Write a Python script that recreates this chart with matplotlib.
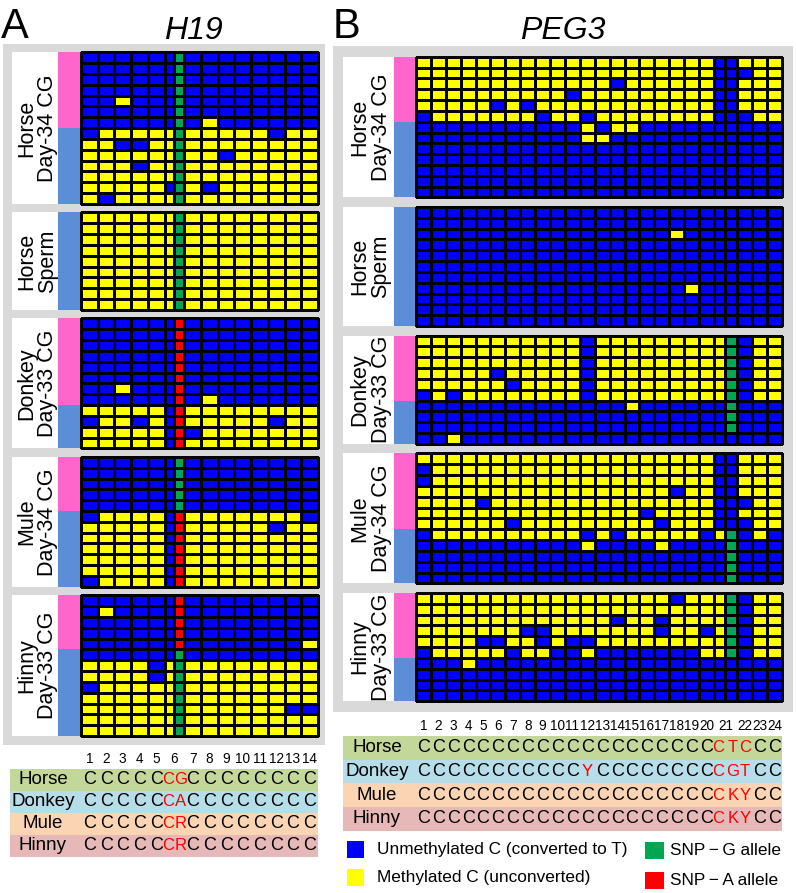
import matplotlib
matplotlib.use("Agg")
import matplotlib.pyplot as plt
import numpy as np
from matplotlib.colors import ListedColormap
from matplotlib.patches import Rectangle

plt.rcParams["font.family"] = ["Liberation Sans", "DejaVu Sans"]

# cell codes: B = unmethylated C, Y = methylated C, G = SNP-G allele, R = SNP-A allele
# H19 columns: CpG 1-6, SNP, CpG 7-14
H19_HORSE_D34 = [
    "BBBBBBGBBBBBBBB", "BBBBBBGBBBBBBBB", "BBBBBBGBBBBBBBB", "BBBBBBGBBBBBBBB",
    "BBYBBBGBBBBBBBB", "BBBBBBGBBBBBBBB", "BBBBBBGBYBBBBBB",
    "BYYYYYGYYYYYBYY", "YYBBYYGYYYYYYYY", "YYYYYYGYYBYYYYY", "YYYBYYGYYYYYYYY",
    "YYYYYYGYYYYYYYY", "YYYYYBGYBYYYYYY", "YBYYYYGYYYYYYYY",
]
H19_HORSE_SPERM = ["YYYYYYGYYYYYYYY"] * 9
H19_DONKEY_D33 = [
    "BBBBBBRBBBBBBBB", "BBBBBBRBBBBBBBB", "BBBBBBRBBBBBBBB", "BBBBBBRBBBBBBBB",
    "BBBBBBRBBBBBBBB", "BBBBBBRBBBBBBBB", "BBYBBBRBBBBBBBB", "BBBBBBRBYBBBBBB",
    "YYYYYBRYYYYYYYY", "BYYBYBRYYYYYBYY", "YYYYYBRBYYYYYYY", "YYYYYBRYYYYYYYY",
]
H19_MULE_D34 = [
    "BBBBBBGBBBBBBBB", "BBBBBBGBBBBBBBB", "BBBBBBGBBBBBBBB", "BBBBBBGBBBBBBBB",
    "BBBBBBGBBBBBBBB",
    "BYYYYBRYYYYYYYB", "YYYYYBRYYYYYBYY", "YYYYYBRYYYYYYYY", "YYYYYBRYYYYYYYY",
    "YYYYYBRYYYYYYYY", "YYYYYBRYYYYYYYY", "BYYYYBRYYYYYYYY",
]
H19_HINNY_D33 = [
    "BBBBBBRBBBBBBBB", "BYBBBBRBBBBBBBB", "BBBBBBRBBBBBBBB", "BBBBBBRBBBBBBBB",
    "BBBBBBRBBBBBBBY",
    "BBBBBBGBBBBBBBB", "YYYYBYGYYYYYYYY", "YYYYBYGYYYYYYYY", "BYYYYYGYYYYYYYY",
    "YYYYYYGYYYYYYYY", "YYYYYYGYYYYYYBB", "YYYYYYGYYYYYYYY", "YYYYYYGYYYYYYYY",
]

# PEG3 columns: CpG 1-21, SNP, CpG 22-24
PEG3_HORSE_D34 = [
    "YYYYYYYYYYYYYYYYYYYYBBYYY", "YYYYYYYYYYYYYYYYYYYYBBBYY",
    "YYYYYYYYYYYYYBYYYYYYBBYYY", "YYYYYYYYYYBYYYYYYYYYBBYYY",
    "YYYYYBYBYYYYYYYYYYYYBBYYY", "BYYYYYYYBYYBYYYYYYYYBBBYY",
    "BBBBBBBBBBBYBYYBBBBBBBBBB", "BBBBBBBBBBBYYBBBBBBBBBBBB",
    "BBBBBBBBBBBBBBBBBBBBBBBBB", "BBBBBBBBBBBBBBBBBBBBBBBBB",
    "BBBBBBBBBBBBBBBBBBBBBBBBB", "BBBBBBBBBBBBBBBBBBBBBBBBB",
    "BBBBBBBBBBBBBBBBBBBBBBBBB",
]
PEG3_HORSE_SPERM = [
    "BBBBBBBBBBBBBBBBBBBBBBBBB", "BBBBBBBBBBBBBBBBBBBBBBBBB",
    "BBBBBBBBBBBBBBBBBYBBBBBBB", "BBBBBBBBBBBBBBBBBBBBBBBBB",
    "BBBBBBBBBBBBBBBBBBBBBBBBB", "BBBBBBBBBBBBBBBBBBBBBBBBB",
    "BBBBBBBBBBBBBBBBBBBBBBBBB", "BBBBBBBBBBBBBBBBBBYBBBBBB",
    "BBBBBBBBBBBBBBBBBBBBBBBBB", "BBBBBBBBBBBBBBBBBBBBBBBBB",
    "BBBBBBBBBBBBBBBBBBBBBBBBB",
]
PEG3_DONKEY_D33 = [
    "YYYYYYYYYYYBYYYYYYYYYGBYY", "YYYYYYYYYYYBYYYYYYYYYGBYY",
    "YYYYYYYYYYYBYYYYYYYYYGBYY", "YYYYYBYYYYYBYYYYYYYYYGBYY",
    "YYYYYYBYYYYBYYYYYYYYYGBYY", "BYBYYYYYYYYBYYYYYYYYYGBYY",
    "BBBBBBBBBBBBBBYBBBBBBGBBB", "BBBBBBBBBBBBBBBBBBBBBGBBB",
    "BBBBBBBBBBBBBBBBBBBBBGBBB", "BBYBBBBBBBBBBBBBBBBBBBBBB",
]
PEG3_MULE_D34 = [
    "YYYYYYYYYYYYYYYYYYYYBBYYY", "BYYYYYYYYYYYYYYYYYYYBBYYY",
    "BYYYYYYYYYYYYYYYYYYYBBYYY", "YYYYYYYYYYYYYYYYYBYYBBYYY",
    "YYYYBYYYYYYYYYYYYYYYBBBYY", "YYYYYYYYYYYYYYYBYYYYBBYYY",
    "YYYYYYBYYYYYYYYYBYYYBBBYY", "BYYYYYYYYYYBYBYYYYYBYGBYB",
    "BBBBBBBBBBBYBBBBYBBBBGBBB", "BBBBBBBBBBBBBBBBBBBBBGBBB",
    "BBBBBBBBBBBBBBBBBBBBBGBBB", "BBBBBBBBBBBBBBBBBBBBBGBBB",
]
PEG3_HINNY_D33 = [
    "YYYYYYYYYYYYYYYYYBYYYGBYY", "YYYYYYYYYYYYYYYYYYYYYGBYY",
    "YYYYYYYYYYYYYBYYBYYYYGBYY", "YYYYYYYBBYYYYYYYBYYBYGBYY",
    "YYYYBBYYBYBBYYYYYYYYYGBYY", "BYYYYYBYYBBYBBBBBBBYYGBYY",
    "BBBYBBBBBBBBBBBBBBBBBBBBB", "BBBBBBBBBBBBBBBBBBBBBBBBB",
    "BBBBBBBBBBBBBBBBBBBBBBBBB", "BBBBBBBBBBBBBBBBBBBBBBBBB",
]

GROUP_LABELS = ["Horse\nDay-34 CG", "Horse\nSperm", "Donkey\nDay-33 CG",
                "Mule\nDay-34 CG", "Hinny\nDay-33 CG"]
H19_GROUPS = [H19_HORSE_D34, H19_HORSE_SPERM, H19_DONKEY_D33, H19_MULE_D34, H19_HINNY_D33]
H19_MATERNAL_ROWS = [7, 0, 8, 5, 5]
PEG3_GROUPS = [PEG3_HORSE_D34, PEG3_HORSE_SPERM, PEG3_DONKEY_D33, PEG3_MULE_D34, PEG3_HINNY_D33]
PEG3_MATERNAL_ROWS = [6, 0, 6, 7, 6]

# sequence table, lowercase = polymorphic (red)
SPECIES = ["Horse", "Donkey", "Mule", "Hinny"]
H19_SEQ = ["CCCCCcgCCCCCCCC", "CCCCCcaCCCCCCCC", "CCCCCcrCCCCCCCC", "CCCCCcrCCCCCCCC"]
PEG3_SEQ = ["CCCCCCCCCCCCCCCCCCCCctcCC", "CCCCCCCCCCCyCCCCCCCCcgtCC",
            "CCCCCCCCCCCCCCCCCCCCckyCC", "CCCCCCCCCCCCCCCCCCCCckyCC"]
SPECIES_COLORS = ["#c4d79b", "#b7dde8", "#fbd4b4", "#e6b9b8"]

CELL_COLORS = {"B": "#0000ff", "Y": "#ffff00", "G": "#00a651", "R": "#ff0000"}
CODE = {"B": 0, "Y": 1, "G": 2, "R": 3}
PINK = "#ff66cc"
BAR_BLUE = "#5b8ed6"
GRAY = "#d9d9d9"

cmap = ListedColormap([CELL_COLORS[k] for k in "BYGR"])

fig = plt.figure(figsize=(7.96, 8.93), dpi=100)
ax = fig.add_axes([0, 0, 1, 1])
ax.set_xlim(0, 796)
ax.set_ylim(893, 0)
ax.axis("off")


def column_edges(n_cpg, snp_after, c_half, snp_w, x0, x1):
    widths = [1.0] * n_cpg
    widths[snp_after - 1] = c_half
    widths.insert(snp_after, snp_w)
    w = np.array(widths)
    return x0 + np.concatenate([[0], np.cumsum(w)]) / w.sum() * (x1 - x0)


def draw_panel(groups, maternal, edges, snp_after, box, white_x, bar_x, top, row_h, gap,
               num_y, seqs, table, label_x):
    ax.add_patch(Rectangle((box[0], box[1]), box[2] - box[0], box[3] - box[1],
                           facecolor=GRAY, edgecolor="none", zorder=0))
    y = top
    for rows, n_mat, label in zip(groups, maternal, GROUP_LABELS):
        n = len(rows)
        h = n * row_h
        ax.add_patch(Rectangle((white_x[0], y), white_x[1] - white_x[0], h,
                               facecolor="white", edgecolor="none", zorder=1))
        ax.add_patch(Rectangle((bar_x[0], y), bar_x[1] - bar_x[0], n_mat * row_h,
                               facecolor=PINK, edgecolor="none", zorder=1))
        ax.add_patch(Rectangle((bar_x[0], y + n_mat * row_h), bar_x[1] - bar_x[0],
                               (n - n_mat) * row_h, facecolor=BAR_BLUE, edgecolor="none", zorder=1))
        vals = np.array([[CODE[c] for c in r] for r in rows])
        ye = y + np.arange(n + 1) * row_h
        ax.pcolormesh(edges, ye, vals, cmap=cmap, vmin=-0.5, vmax=3.5,
                      edgecolors="black", linewidth=0.8, zorder=2)
        ax.text((white_x[0] + white_x[1]) / 2 + 2, y + h / 2, label, rotation=90,
                ha="center", va="center", fontsize=15.5, linespacing=1.0, zorder=3)
        y += h + gap

    centers = (edges[:-1] + edges[1:]) / 2
    n_cpg = len(edges) - 2
    for i in range(1, n_cpg + 1):
        if i < snp_after:
            cx = centers[i - 1]
        elif i == snp_after:
            cx = (edges[i - 1] + edges[i + 1]) / 2
        else:
            cx = centers[i]
        ax.text(cx, num_y, str(i), ha="center", va="center", fontsize=9.8)

    # split CpG/SNP cells are narrow: nudge their letters apart
    shift = np.zeros(len(centers))
    shift[snp_after - 1] = -1.6
    shift[snp_after] = 1.6
    tx0, tx1, ttop, th = table
    for k, (name, seq, col) in enumerate(zip(SPECIES, seqs, SPECIES_COLORS)):
        ry = ttop + k * th
        ax.add_patch(Rectangle((tx0, ry), tx1 - tx0, th, facecolor=col, edgecolor="none"))
        ax.text(label_x, ry + th / 2, name, ha="center", va="center", fontsize=13.5)
        for cx, dx, ch in zip(centers, shift, seq):
            ax.text(cx + dx, ry + th / 2, ch.upper(), ha="center", va="center",
                    fontsize=13 if ch.isupper() else 12,
                    color="#ff0000" if ch.islower() else "black")


h19_edges = column_edges(14, 6, 0.57, 0.61, 81, 318)
draw_panel(H19_GROUPS, H19_MATERNAL_ROWS, h19_edges, 6, (3, 44, 325, 745),
           (12, 58), (58, 81), 52.3, 10.83, 8.5, 759, H19_SEQ, (10, 318, 769, 22), 43)

peg3_edges = column_edges(24, 21, 0.74, 0.83, 416, 782)
draw_panel(PEG3_GROUPS, PEG3_MATERNAL_ROWS, peg3_edges, 21, (333, 46, 793, 712),
           (343, 394), (394, 416), 56.7, 10.83, 9.5, 726, PEG3_SEQ, (343, 782, 736, 23.7), 377)

ax.text(1, 38, "A", fontsize=30, ha="left", va="baseline")
ax.text(333, 38, "B", fontsize=30, ha="left", va="baseline")
ax.text(193, 39, "H19", fontsize=23, style="italic", ha="center", va="baseline")
ax.text(563, 39, "PEG3", fontsize=23, style="italic", ha="center", va="baseline")

# legend
legend_items = [
    ("B", 347, 841, 17, 377, "Unmethylated C (converted to T)"),
    ("Y", 347, 869, 17, 377, "Methylated C (unconverted)"),
    ("G", 645, 842, 19, 670, "SNP\u2009\u2212\u2009G allele"),
    ("R", 645, 872, 19, 670, "SNP\u2009\u2212\u2009A allele"),
]
for key, lx, ly, lw, tx, txt in legend_items:
    ax.add_patch(Rectangle((lx, ly), lw, 17, facecolor=CELL_COLORS[key], edgecolor="none"))
    ax.text(tx, ly + 8.5, txt, ha="left", va="center", fontsize=12.4)

fig.savefig("out.png", dpi=100)
plt.close(fig)
